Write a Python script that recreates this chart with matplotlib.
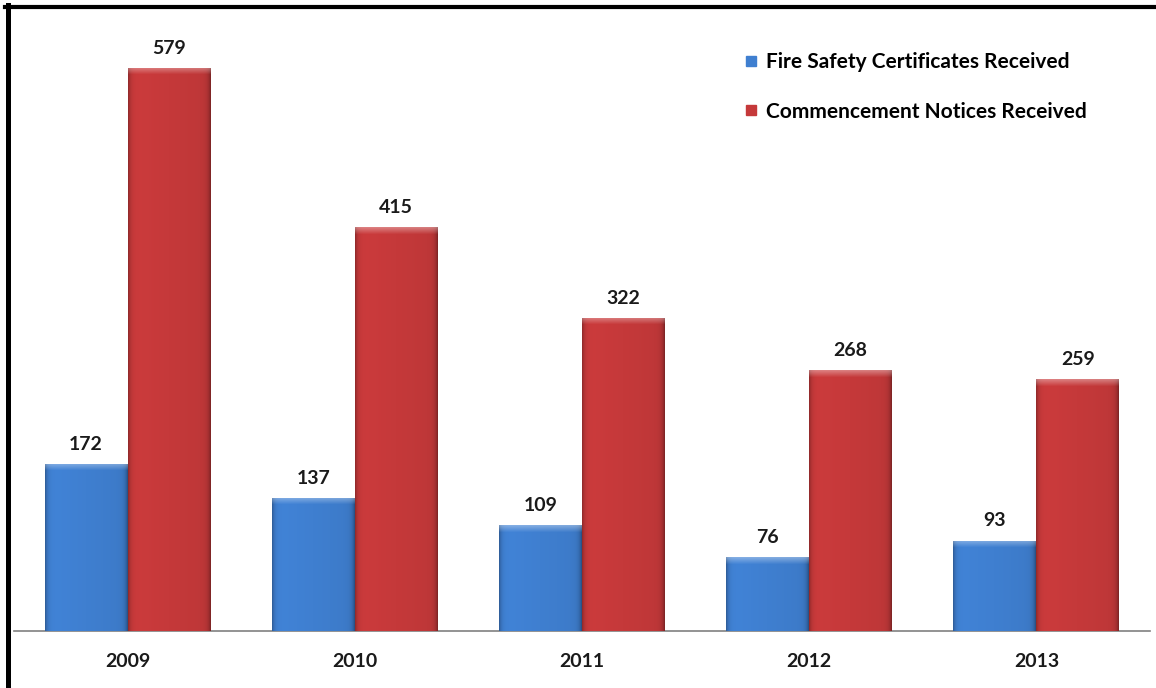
import numpy as np
import matplotlib
matplotlib.use("Agg")
import matplotlib.pyplot as plt
from matplotlib.lines import Line2D
from matplotlib.colors import to_rgb

# ------------- DATA ------------- #
years = ['2009', '2010', '2011', '2012', '2013']
fire_safety = [172, 137, 109, 76, 93]
commencement = [579, 415, 322, 268, 259]
series_names = ['Fire Safety Certificates Received', 'Commencement Notices Received']

# ------------- STYLE ------------- #
blue = '#3f7fd0'
red = '#c5393a'
font = 'Lato'
bar_w = 0.365

fig = plt.figure(figsize=(11.56, 6.88), dpi=100)
ax = fig.add_axes([14 / 1156, 57 / 688, 1136 / 1156, 621 / 688])

x = np.arange(len(years))
b1 = ax.bar(x - bar_w / 2, fire_safety, bar_w, color=blue, zorder=2)
b2 = ax.bar(x + bar_w / 2, commencement, bar_w, color=red, zorder=2)


def shade_bars(bars, base):
    # fake the excel bevel look: darker side edges, lighter top strip
    rgb = np.array(to_rgb(base))
    t = np.linspace(0, 1, 120)
    prof = 1 - 0.30 * np.exp(-t / 0.03) - 0.35 * np.exp(-(1 - t) / 0.03)
    prof = prof * (1.04 - 0.08 * t)
    for bar in bars:
        x0, w, h = bar.get_x(), bar.get_width(), bar.get_height()
        ny = max(int(h), 2)
        img = np.ones((ny, len(t), 3)) * rgb
        img = img * prof[None, :, None]
        top = np.arange(ny)
        lift = np.clip(1 - top / 7.0, 0, 1)[:, None, None] * 0.35
        img = img + (1 - img) * lift
        img = np.clip(img, 0, 1)
        im = ax.imshow(img, extent=(x0, x0 + w, 0, h), aspect='auto',
                       origin='upper', zorder=3, interpolation='bilinear')
        im.set_clip_path(bar)


shade_bars(b1, blue)
shade_bars(b2, red)

ax.bar_label(b1, padding=8, fontsize=14, fontweight='bold', family=font, color='#1a1a1a')
ax.bar_label(b2, padding=8, fontsize=14, fontweight='bold', family=font, color='#1a1a1a')

ax.set_xlim(-0.5, 4.5)
ax.set_ylim(0, 638.6)
ax.set_xticks(x)
ax.set_xticklabels(years, fontsize=14, fontweight='bold', family=font, color='#1a1a1a')
ax.tick_params(axis='x', length=0, pad=16)
ax.set_yticks([])
for side in ['top', 'right', 'left']:
    ax.spines[side].set_visible(False)
ax.spines['bottom'].set_color('#808080')
ax.spines['bottom'].set_linewidth(1.2)

handles = [Line2D([], [], marker='s', color=c, markersize=7, linestyle='none')
           for c in [blue, red]]
ax.legend(handles, series_names, loc='upper left', bbox_to_anchor=(734 / 1156, 1 - 42 / 688),
          bbox_transform=fig.transFigure, frameon=False, handlelength=0.6,
          handletextpad=0.45, labelspacing=1.4, borderpad=0,
          prop={'family': font, 'weight': 'bold', 'size': 15})

# border lines of the cropped screenshot (top and left only)
fig.add_artist(Line2D([5 / 1156, 1], [1 - 7 / 688, 1 - 7 / 688], color='black',
                      linewidth=3.0, transform=fig.transFigure))
fig.add_artist(Line2D([7.5 / 1156, 7.5 / 1156], [0, 1 - 5 / 688], color='black',
                      linewidth=3.6, transform=fig.transFigure))

plt.savefig('out.png', dpi=100)
